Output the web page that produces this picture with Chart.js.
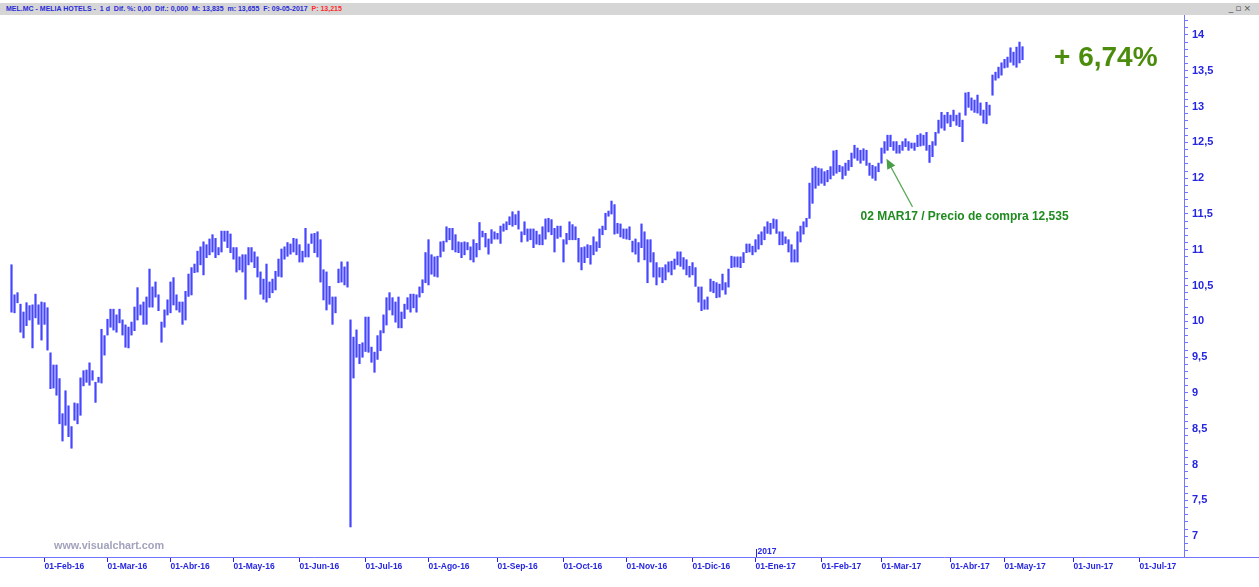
<!DOCTYPE html>
<html>
<head>
<meta charset="utf-8">
<title>MEL.MC - MELIA HOTELS</title>
<script src="https://cdn.jsdelivr.net/npm/chart.js@4.4.1/dist/chart.umd.min.js"></script>
<style>
  html, body { margin: 0; padding: 0; background: #fff; }
  #wrap { position: relative; width: 1259px; height: 587px; overflow: hidden; }
  #hdr {
    position: absolute; left: 0; top: 3px; width: 1259px; height: 12px;
    background: #d6d6d6; color: #2b2bd8; white-space: pre;
    font: bold 7px "Liberation Sans", Arial, sans-serif; line-height: 12px;
  }
  #hdr .txt { position: absolute; left: 6px; top: 0; }
  #hdr .red { color: #ff2a2a; }
  #hdr .btns { position: absolute; right: 6px; top: 0; color: #555; font: 9px "DejaVu Sans", sans-serif; letter-spacing: 2px; }
  canvas { position: absolute; left: 0; top: 0; }
</style>
</head>
<body>
<div id="wrap">
  <canvas id="chart" width="1259" height="587"></canvas>
  <div id="hdr"><span class="txt">MEL.MC - MELIA HOTELS -  1 d  Dif. %: 0,00  Dif.: 0,000  M: 13,835  m: 13,655  F: 09-05-2017  <span class="red">P: 13,215</span></span><span class="btns">_▫×</span></div>
</div>
<script>
// ---------- data ----------
const firstDay = '2016-01-15';
const holidays = ['2016-03-25', '2016-03-28', '2016-12-26', '2017-04-14', '2017-04-17'];

const high = [
  10.79, 10.37, 10.40, 10.24, 10.13, 10.26, 10.22, 10.23, 10.38, 10.23,
  10.27, 10.26, 10.19, 9.56, 9.39, 9.39, 9.20, 8.71, 9.03, 8.82,
  8.53, 8.86, 8.85, 9.21, 9.31, 9.32, 9.42, 9.31, 9.15, 9.22,
  9.89, 9.80, 10.03, 10.17, 10.17, 10.09, 10.17, 10.02, 9.95, 9.92,
  9.99, 10.20, 10.47, 10.23, 10.27, 10.34, 10.73, 10.48, 10.55, 10.37,
  9.99, 10.16, 10.30, 10.55, 10.61, 10.37, 10.27, 10.27, 10.42, 10.66,
  10.75, 10.80, 10.98, 11.04, 11.11, 11.07, 11.15, 11.21, 11.16, 11.03,
  11.26, 11.26, 11.26, 11.22, 11.03, 11.03, 10.90, 10.93, 10.93, 11.03,
  11.03, 10.97, 10.90, 10.69, 10.59, 10.80, 10.55, 10.59, 10.70, 10.87,
  11.01, 11.04, 11.10, 11.08, 11.16, 11.15, 11.07, 10.98, 11.30, 11.08,
  11.22, 11.23, 11.25, 11.14, 10.72, 10.69, 10.49, 10.34, 10.34, 10.73,
  10.83, 10.76, 10.83, 10.02, 9.78, 9.88, 9.68, 9.70, 10.06, 10.06,
  9.64, 9.57, 9.80, 9.87, 10.09, 10.33, 10.40, 10.33, 10.27, 10.34,
  10.13, 10.24, 10.33, 10.38, 10.38, 10.37, 10.48, 10.58, 10.96, 11.14,
  10.93, 10.90, 10.91, 11.11, 11.12, 11.32, 11.30, 11.30, 11.21, 11.11,
  11.10, 11.11, 11.10, 11.04, 11.14, 11.09, 11.38, 11.26, 11.23, 11.15,
  11.28, 11.25, 11.23, 11.33, 11.36, 11.39, 11.46, 11.53, 11.49, 11.54,
  11.25, 11.39, 11.29, 11.29, 11.29, 11.26, 11.21, 11.32, 11.43, 11.44,
  11.42, 11.30, 11.33, 11.33, 11.14, 11.23, 11.39, 11.35, 11.32, 11.16,
  11.03, 11.04, 11.07, 11.06, 11.18, 11.11, 11.29, 11.33, 11.51, 11.54,
  11.68, 11.63, 11.37, 11.36, 11.29, 11.29, 11.32, 11.12, 11.15, 11.10,
  11.36, 11.25, 11.14, 11.14, 10.96, 10.82, 10.75, 10.75, 10.79, 10.83,
  10.84, 10.87, 10.97, 10.97, 10.89, 10.86, 10.77, 10.82, 10.75, 10.48,
  10.48, 10.30, 10.34, 10.59, 10.56, 10.54, 10.52, 10.66, 10.54, 10.73,
  10.91, 10.90, 10.90, 10.90, 10.96, 11.08, 11.08, 11.05, 11.14, 11.21,
  11.25, 11.32, 11.39, 11.37, 11.43, 11.42, 11.25, 11.25, 11.18, 11.14,
  11.07, 11.00, 11.25, 11.33, 11.39, 11.44, 11.93, 12.14, 12.16, 12.14,
  12.13, 12.09, 12.11, 12.16, 12.38, 12.39, 12.18, 12.16, 12.21, 12.25,
  12.35, 12.46, 12.42, 12.39, 12.41, 12.39, 12.21, 12.18, 12.16, 12.21,
  12.42, 12.51, 12.60, 12.60, 12.51, 12.51, 12.46, 12.51, 12.55, 12.51,
  12.49, 12.49, 12.60, 12.62, 12.60, 12.64, 12.46, 12.51, 12.64, 12.81,
  12.92, 12.88, 12.92, 12.88, 12.95, 12.88, 12.91, 12.81, 13.19, 13.20,
  13.12, 13.09, 13.16, 13.05, 12.95, 13.06, 13.02, 13.44, 13.48, 13.55,
  13.61, 13.66, 13.69, 13.82, 13.76, 13.83, 13.90, 13.835
];

const low = [
  10.13, 10.12, 10.26, 9.85, 9.77, 9.94, 10.02, 9.63, 10.05, 9.96,
  9.74, 9.96, 9.60, 9.06, 9.07, 8.97, 8.57, 8.33, 8.55, 8.39,
  8.23, 8.62, 8.57, 8.69, 9.10, 9.15, 9.11, 9.18, 8.87, 9.15,
  9.14, 9.53, 9.81, 9.92, 9.88, 9.85, 9.98, 9.81, 9.64, 9.63,
  9.81, 9.87, 10.02, 10.09, 9.96, 9.96, 10.20, 10.20, 10.34, 10.15,
  9.71, 9.92, 10.09, 10.12, 10.23, 10.16, 10.13, 9.96, 10.02, 10.35,
  10.37, 10.68, 10.69, 10.79, 10.65, 10.89, 10.93, 10.97, 10.89, 10.93,
  10.97, 11.12, 11.03, 10.96, 10.87, 10.69, 10.72, 10.69, 10.31, 10.79,
  10.83, 10.75, 10.62, 10.38, 10.31, 10.27, 10.33, 10.40, 10.44, 10.63,
  10.62, 10.87, 10.91, 10.94, 10.97, 10.93, 10.83, 10.83, 10.90, 10.90,
  11.09, 10.96, 10.90, 10.55, 10.30, 10.16, 10.24, 9.96, 10.12, 10.54,
  10.55, 10.51, 10.48, 7.13, 9.21, 9.50, 9.41, 9.50, 9.58, 9.57,
  9.43, 9.29, 9.47, 9.59, 9.84, 9.95, 10.16, 10.09, 9.99, 9.91,
  9.91, 10.04, 10.17, 10.13, 10.19, 10.13, 10.34, 10.40, 10.54, 10.51,
  10.66, 10.63, 10.62, 10.90, 10.98, 11.11, 11.14, 11.00, 10.97, 10.96,
  10.89, 10.93, 11.00, 10.86, 10.83, 10.90, 11.00, 11.18, 11.04, 10.94,
  11.09, 11.15, 11.15, 11.09, 11.26, 11.28, 11.35, 11.33, 11.35, 11.29,
  11.11, 11.21, 11.12, 11.14, 11.03, 11.08, 11.07, 11.07, 11.15, 11.25,
  11.21, 10.97, 11.16, 11.18, 10.83, 11.08, 11.14, 11.14, 11.14, 10.83,
  10.72, 10.82, 10.89, 10.80, 10.93, 10.98, 11.03, 11.21, 11.28, 11.47,
  11.50, 11.22, 11.23, 11.18, 11.16, 11.15, 11.14, 10.97, 10.94, 10.83,
  11.03, 10.86, 10.54, 10.83, 10.62, 10.51, 10.62, 10.54, 10.58, 10.69,
  10.65, 10.73, 10.79, 10.77, 10.73, 10.65, 10.62, 10.65, 10.49, 10.27,
  10.15, 10.17, 10.17, 10.42, 10.40, 10.33, 10.34, 10.44, 10.38, 10.48,
  10.75, 10.76, 10.76, 10.75, 10.82, 10.96, 10.97, 10.93, 10.97, 11.01,
  11.07, 11.14, 11.23, 11.22, 11.30, 11.23, 11.07, 11.07, 11.09, 10.97,
  10.83, 10.83, 10.83, 11.11, 11.22, 11.32, 11.44, 11.65, 11.86, 11.90,
  11.93, 11.90, 11.95, 11.99, 12.04, 12.07, 12.09, 11.99, 12.04, 12.11,
  12.16, 12.28, 12.25, 12.21, 12.25, 12.18, 12.04, 12.00, 11.97, 12.09,
  12.21, 12.35, 12.39, 12.44, 12.39, 12.35, 12.35, 12.39, 12.44, 12.39,
  12.42, 12.39, 12.44, 12.45, 12.46, 12.39, 12.22, 12.30, 12.46, 12.63,
  12.70, 12.67, 12.77, 12.72, 12.80, 12.74, 12.72, 12.51, 12.88, 12.99,
  12.95, 12.92, 12.91, 12.88, 12.77, 12.76, 12.88, 13.16, 13.37, 13.40,
  13.44, 13.54, 13.55, 13.62, 13.58, 13.55, 13.61, 13.655
];

const monthLabels = [
  '01-Feb-16', '01-Mar-16', '01-Abr-16', '01-May-16', '01-Jun-16', '01-Jul-16',
  '01-Ago-16', '01-Sep-16', '01-Oct-16', '01-Nov-16', '01-Dic-16', '01-Ene-17',
  '01-Feb-17', '01-Mar-17', '01-Abr-17', '01-May-17', '01-Jun-17', '01-Jul-17'
];
const yearLabel = '2017';
const buyDate = '2017-03-02';
const buyText = '02 MAR17 / Precio de compra 12,535';
const gainText = '+ 6,74%';

// ---------- trading calendar (weekdays minus market holidays) ----------
function tradingDays(start, count) {
  const out = [];
  const d = new Date(start + 'T12:00:00Z');
  while (out.length < count) {
    const dow = d.getUTCDay();
    const iso = d.toISOString().slice(0, 10);
    if (dow !== 0 && dow !== 6 && !holidays.includes(iso)) out.push(iso);
    d.setUTCDate(d.getUTCDate() + 1);
  }
  return out;
}
const days = tradingDays(firstDay, 392);

// index of first trading day of each month after the first one
const monthTicks = [];
for (let i = 1; i < days.length && monthTicks.length < monthLabels.length; i++) {
  if (days[i].slice(0, 7) !== days[i - 1].slice(0, 7)) {
    monthTicks.push({ value: i, label: monthLabels[monthTicks.length] });
  }
}
const yearIdx = days.indexOf('2017-01-02');
const buyIdx = days.indexOf(buyDate);

const BLUE = '#2626e0';
const AXIS = '#7474ff';

const fmt = v => String(Math.round(v * 10) / 10).replace('.', ',');
const bars = high.map((h, i) => ({ x: i, y: [low[i], h] }));

// ---------- extra drawing: axis frame, markers, annotation ----------
const decorations = {
  id: 'decorations',
  afterDraw(chart) {
    const { ctx, chartArea: a, scales: { x, y } } = chart;
    ctx.save();

    // axis lines
    ctx.strokeStyle = AXIS;
    ctx.lineWidth = 1;
    ctx.beginPath();
    ctx.moveTo(0, a.bottom + 0.5);
    ctx.lineTo(chart.width, a.bottom + 0.5);
    ctx.moveTo(a.right + 0.5, a.top);
    ctx.lineTo(a.right + 0.5, a.bottom);
    ctx.stroke();

    // year marker
    const yx = Math.round(x.getPixelForValue(yearIdx)) + 0.5;
    ctx.strokeStyle = BLUE;
    ctx.beginPath();
    ctx.moveTo(yx, a.bottom);
    ctx.lineTo(yx, a.bottom - 8);
    ctx.stroke();
    ctx.fillStyle = BLUE;
    ctx.font = 'bold 8.5px "Liberation Sans", Arial, sans-serif';
    ctx.textAlign = 'left';
    ctx.textBaseline = 'alphabetic';
    ctx.fillText(yearLabel, yx + 1, a.bottom - 3);

    // watermark
    ctx.fillStyle = '#a2a2bc';
    ctx.font = 'bold 10.8px "Liberation Sans", Arial, sans-serif';
    ctx.fillText('www.visualchart.com', 54, a.bottom - 8);

    // buy annotation: arrow to the bar of the purchase day
    const tipX = x.getPixelForValue(buyIdx) + 2;
    const tipY = y.getPixelForValue(12.27);
    const tailX = tipX + 26;
    const tailY = tipY + 48;
    const ang = Math.atan2(tipY - tailY, tipX - tailX);
    ctx.strokeStyle = '#5aa85a';
    ctx.fillStyle = '#4a9e4a';
    ctx.lineWidth = 1.2;
    ctx.beginPath();
    ctx.moveTo(tailX, tailY);
    ctx.lineTo(tipX - 6 * Math.cos(ang), tipY - 6 * Math.sin(ang));
    ctx.stroke();
    ctx.beginPath();
    ctx.moveTo(tipX, tipY);
    ctx.lineTo(tipX - 10 * Math.cos(ang) + 4.5 * Math.sin(ang), tipY - 10 * Math.sin(ang) - 4.5 * Math.cos(ang));
    ctx.lineTo(tipX - 10 * Math.cos(ang) - 4.5 * Math.sin(ang), tipY - 10 * Math.sin(ang) + 4.5 * Math.cos(ang));
    ctx.closePath();
    ctx.fill();

    ctx.fillStyle = '#1f8a1f';
    ctx.font = 'bold 12px "Liberation Sans", Arial, sans-serif';
    ctx.textBaseline = 'middle';
    ctx.fillText(buyText, tipX - 26, tailY + 10);

    // result
    ctx.fillStyle = '#4b8c0c';
    ctx.font = 'bold 28px "Liberation Sans", Arial, sans-serif';
    ctx.fillText(gainText, 1054, 58);

    ctx.restore();
  }
};

new Chart(document.getElementById('chart'), {
  type: 'bar',
  data: {
    datasets: [
      // darker 1px core of each high-low bar (drawn on top), then its light halo
      { data: bars, backgroundColor: '#4646ff', borderWidth: 0, barThickness: 1, grouped: false, order: 0 },
      { data: bars, backgroundColor: '#a4a4ff', borderWidth: 0, barThickness: 2, grouped: false, order: 1 }
    ]
  },
  options: {
    responsive: false,
    animation: false,
    layout: { padding: { top: 15, left: 0, right: 0, bottom: 0 } },
    plugins: { legend: { display: false }, tooltip: { enabled: false } },
    scales: {
      x: {
        type: 'linear',
        offset: false,
        min: -3.8333,
        max: 390.8333,
        afterBuildTicks: axis => { axis.ticks = monthTicks.map(t => ({ value: t.value })); },
        afterFit: axis => { axis.height = 30; },
        grid: { offset: false, drawOnChartArea: false, drawTicks: true, tickLength: 5, tickColor: BLUE },
        border: { display: false },
        ticks: {
          autoSkip: false,
          maxRotation: 0,
          align: 'start',
          padding: 0,
          color: BLUE,
          font: { family: '"Liberation Sans", Arial, sans-serif', size: 8.5, weight: 'bold' },
          callback: (v) => {
            const t = monthTicks.find(m => m.value === v);
            return t ? t.label : '';
          }
        }
      },
      y: {
        position: 'right',
        min: 6.7095,
        max: 14.279,
        afterBuildTicks: axis => {
          const t = [];
          for (let k = 68; k <= 142; k++) t.push({ value: k / 10 });
          axis.ticks = t;
        },
        afterFit: axis => { axis.width = 75; },
        grid: { drawOnChartArea: false, drawTicks: true, tickLength: 4, tickColor: AXIS },
        border: { display: false },
        ticks: {
          autoSkip: false,
          padding: 4,
          color: BLUE,
          font: { family: '"Liberation Sans", Arial, sans-serif', size: 11, weight: 'bold' },
          callback: v => (Math.round(v * 10) % 5 === 0 ? fmt(v) : '')
        }
      }
    }
  },
  plugins: [decorations]
});
</script>
</body>
</html>
